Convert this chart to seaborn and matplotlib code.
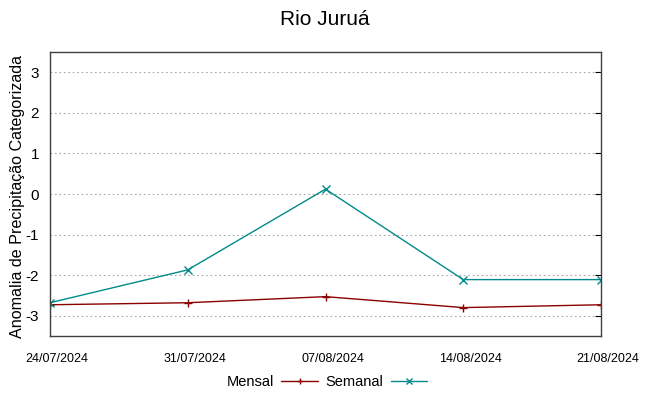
import matplotlib
matplotlib.use("Agg")
import matplotlib.pyplot as plt
import matplotlib.transforms as mtransforms
import seaborn as sns
import pandas as pd

dates = ["2024-07-24", "2024-07-31", "2024-08-07", "2024-08-14", "2024-08-21"]
tick_labels = ["24/07/2024", "31/07/2024", "07/08/2024", "14/08/2024", "21/08/2024"]
mensal = [-2.73, -2.68, -2.53, -2.80, -2.73]
semanal = [-2.68, -1.87, 0.12, -2.11, -2.11]

df = pd.DataFrame({
    "data": pd.to_datetime(dates * 2),
    "valor": mensal + semanal,
    "serie": ["Mensal"] * 5 + ["Semanal"] * 5,
})

colors = {"Mensal": "#8b0000", "Semanal": "#008b8b"}

sns.set_style("white")
plt.rcParams["font.family"] = ["Liberation Sans", "DejaVu Sans"]
plt.rcParams["text.color"] = "black"
plt.rcParams["xtick.color"] = "black"
plt.rcParams["ytick.color"] = "black"
plt.rcParams["axes.labelcolor"] = "black"

fig = plt.figure(figsize=(6.49, 3.96), dpi=100)
ax = fig.add_axes([50 / 649, 1 - 336 / 396, 551 / 649, 284 / 396])

sns.lineplot(data=df, x="data", y="valor", hue="serie", style="serie",
             markers={"Mensal": "+", "Semanal": "x"}, dashes=False,
             palette=colors, linewidth=1, markersize=5.5, ax=ax, legend=True)

for line in ax.lines:
    c = line.get_color()
    line.set_markeredgecolor(c)
    line.set_markerfacecolor(c)
    line.set_markeredgewidth(1)

xd = pd.to_datetime(dates)
ax.set_xlim(xd[0], xd[-1])
ax.set_ylim(-3.5, 3.5)
ax.set_xticks(xd)
ax.set_xticklabels(tick_labels, fontsize=9)
ax.set_yticks([-3, -2, -1, 0, 1, 2, 3])
ax.set_yticklabels(["-3", "-2", "-1", "0", "1", "2", "3"], fontsize=11)
ax.tick_params(axis="both", direction="in", length=4, width=0.8, color="black",
               top=False, right=True, pad=8)
ax.tick_params(axis="x", pad=12)
offset = mtransforms.ScaledTranslation(7 / 100, 0, fig.dpi_scale_trans)
for lab in ax.get_xticklabels():
    lab.set_transform(lab.get_transform() + offset)
ax.grid(axis="y", linestyle=(0, (1.5, 2.5)), color="#a8a8a8", linewidth=0.8)
ax.grid(axis="x", visible=False)
for s in ax.spines.values():
    s.set_color("#404040")
    s.set_linewidth(1)
ax.set_xlabel("")
ax.set_ylabel("Anomalia de Precipitação Categorizada", fontsize=11.6, labelpad=1)
ax.yaxis.set_label_coords(-25 / 551, 0.49)
fig.suptitle("Rio Juruá", fontsize=15, y=0.975)

h, l = ax.get_legend_handles_labels()
for hh, lab in zip(h, l):
    hh.set_markeredgecolor(colors[lab])
    hh.set_markeredgewidth(1)
    hh.set_markersize(5)
ax.legend(h, l, loc="center", ncol=2, frameon=False, markerfirst=False, fontsize=10.5,
          handlelength=2.5, columnspacing=0.55, handletextpad=0.5, borderaxespad=0)
lg = ax.get_legend()
lg.set_bbox_to_anchor((327 / 649, 1 - 382 / 396), transform=fig.transFigure)

fig.savefig("out.png", dpi=100)
